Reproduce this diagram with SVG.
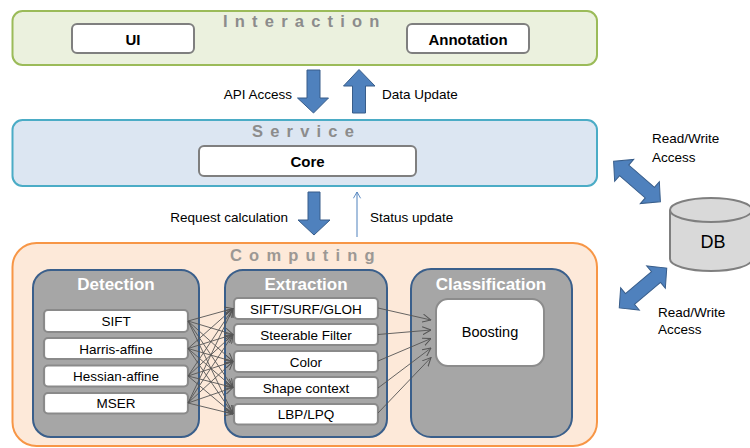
<svg xmlns="http://www.w3.org/2000/svg" width="750" height="448" viewBox="0 0 750 448">
<defs>
<style>
.layer-title{font-family:"Liberation Sans",Arial,sans-serif;font-weight:bold;font-size:16.5px;letter-spacing:7.2px}
.lbl{font-family:"Liberation Sans",Arial,sans-serif;font-size:13.5px;fill:#000}
.btn{fill:#fff;stroke:#7f7f7f;stroke-width:2}
.btxt{font-family:"Liberation Sans",Arial,sans-serif;font-weight:bold;font-size:15px;text-anchor:middle;fill:#000}
.mod{fill:#a6a6a6;stroke:#3a5f8b;stroke-width:2}
.modt{font-family:"Liberation Sans",Arial,sans-serif;font-weight:bold;font-size:17px;text-anchor:middle;fill:#fff}
.item{fill:#fff;stroke:#8a8a8a;stroke-width:2.2}
.itxt{font-family:"Liberation Sans",Arial,sans-serif;font-size:13.5px;text-anchor:middle;fill:#000}
.block{fill:#4f81bd;stroke:#385d8a;stroke-width:1}
.fan{stroke:#555;stroke-width:0.9;fill:none;marker-end:url(#oa)}
</style>
<marker id="oa" viewBox="0 0 10 10" refX="9.5" refY="5" markerWidth="9" markerHeight="9" markerUnits="userSpaceOnUse" orient="auto">
<path d="M0,0.5 L9.5,5 L0,9.5" fill="none" stroke="#555" stroke-width="1.1"/>
</marker>
<marker id="ba" viewBox="0 0 10 10" refX="5" refY="1" markerWidth="9" markerHeight="9" markerUnits="userSpaceOnUse" orient="0">
<path d="M1,8 L5,1 L9,8" fill="none" stroke="#4f81bd" stroke-width="1"/>
</marker>
<path id="dbl" d="M-31,0 L-17,-14.5 L-17,-7 L17,-7 L17,-14.5 L31,0 L17,14.5 L17,7 L-17,7 L-17,14.5 Z"/>
</defs>
<rect width="750" height="448" fill="#fff"/>

<g id="interaction">
<rect x="12.5" y="11" width="584.5" height="54" rx="10" fill="#ebf1de" stroke="#9bbb59" stroke-width="2"/>
<text class="layer-title" x="223" y="27" fill="#8c8c8c">Interaction</text>
</g>
<g id="ui">
<rect class="btn" x="72" y="24" width="122" height="29" rx="5"/>
<text class="btxt" x="133" y="45">UI</text>
</g>
<g id="annotation">
<rect class="btn" x="407" y="24" width="122" height="29" rx="5"/>
<text class="btxt" x="468" y="45">Annotation</text>
</g>

<g id="service">
<rect x="12.5" y="120" width="584.5" height="66" rx="10" fill="#dce6f2" stroke="#4bacc6" stroke-width="2"/>
<text class="layer-title" x="252" y="137" fill="#8c8c8c">Service</text>
</g>
<g id="core">
<rect class="btn" x="199" y="146" width="217" height="30" rx="5"/>
<text class="btxt" x="307.5" y="167">Core</text>
</g>

<g id="computing">
<rect x="12.5" y="243" width="584.5" height="203" rx="24" fill="#fde9d9" stroke="#f79646" stroke-width="2"/>
<text class="layer-title" x="230" y="261" fill="#9c9894">Computing</text>
</g>

<g id="detection">
<rect class="mod" x="33" y="270" width="166" height="167" rx="18"/>
<text class="modt" x="116" y="290">Detection</text>
<g id="det-sift"><rect class="item" x="44" y="310" width="144" height="22" rx="4"/><text class="itxt" x="116" y="326">SIFT</text></g>
<g id="det-harris"><rect class="item" x="44" y="338" width="144" height="21" rx="4"/><text class="itxt" x="116" y="353.5">Harris-affine</text></g>
<g id="det-hessian"><rect class="item" x="44" y="365.5" width="144" height="21" rx="4"/><text class="itxt" x="116" y="381">Hessian-affine</text></g>
<g id="det-mser"><rect class="item" x="44" y="393" width="144" height="20.5" rx="4"/><text class="itxt" x="116" y="408">MSER</text></g>
</g>

<g id="extraction">
<rect class="mod" x="225" y="270" width="162" height="167" rx="18"/>
<text class="modt" x="306" y="290">Extraction</text>
<g id="ext-sift"><rect class="item" x="234" y="298" width="144" height="21" rx="4"/><text class="itxt" x="306" y="313.5">SIFT/SURF/GLOH</text></g>
<g id="ext-steer"><rect class="item" x="234" y="324" width="144" height="21" rx="4"/><text class="itxt" x="306" y="339.5">Steerable Filter</text></g>
<g id="ext-color"><rect class="item" x="234" y="351" width="144" height="21" rx="4"/><text class="itxt" x="306" y="366.5">Color</text></g>
<g id="ext-shape"><rect class="item" x="234" y="377" width="144" height="21" rx="4"/><text class="itxt" x="306" y="392.5">Shape context</text></g>
<g id="ext-lbp"><rect class="item" x="234" y="404" width="144" height="20.5" rx="4"/><text class="itxt" x="306" y="419">LBP/LPQ</text></g>
</g>

<g id="classification">
<rect class="mod" x="411" y="269" width="161" height="168" rx="20"/>
<text class="modt" x="491" y="290">Classification</text>
<g id="boosting"><rect x="436" y="299" width="108" height="67" rx="12" fill="#fff" stroke="#8c8c8c" stroke-width="2"/><text class="itxt" x="490" y="337" style="font-size:14.5px">Boosting</text></g>
</g>

<g id="db">
<path d="M670,210 L670,259 A41,12 0 0 0 752,259 L752,210" fill="#d9d9d9" stroke="#7f7f7f" stroke-width="2"/>
<ellipse cx="711" cy="210" rx="41" ry="12" fill="#d9d9d9" stroke="#7f7f7f" stroke-width="2"/>
<text x="713" y="248" style="font-family:'Liberation Sans',Arial,sans-serif;font-size:18px;text-anchor:middle">DB</text>
</g>

<g id="connectors">
<path class="block" d="M307,70 L320,70 L320,98 L328.5,98 L313.5,113 L297.5,98 L307,98 Z"/>
<text class="lbl" x="292" y="99" text-anchor="end">API Access</text>
<path class="block" d="M352.5,113 L365.5,113 L365.5,86 L375,86 L359,69.5 L343.5,86 L352.5,86 Z"/>
<text class="lbl" x="382" y="99">Data Update</text>
<path class="block" d="M308,192 L320,192 L320,220 L330,220 L314,235 L298,220 L308,220 Z"/>
<text class="lbl" x="288" y="222" text-anchor="end">Request calculation</text>
<line x1="357" y1="237" x2="357" y2="192" stroke="#4f81bd" stroke-width="1" marker-end="url(#ba)"/>
<text class="lbl" x="370" y="222">Status update</text>

<use href="#dbl" class="block" transform="translate(637,181.5) rotate(41)"/>
<text class="lbl" x="652" y="143">Read/Write</text>
<text class="lbl" x="652" y="162">Access</text>
<use href="#dbl" class="block" transform="translate(643,288) rotate(-40)"/>
<text class="lbl" x="658" y="317">Read/Write</text>
<text class="lbl" x="658" y="334">Access</text>

<path class="fan" d="M188,321 L233,308.5"/>
<path class="fan" d="M188,321 L233,334.5"/>
<path class="fan" d="M188,321 L233,361.5"/>
<path class="fan" d="M188,321 L233,387.5"/>
<path class="fan" d="M188,321 L233,414"/>
<path class="fan" d="M188,348.5 L233,308.5"/>
<path class="fan" d="M188,348.5 L233,334.5"/>
<path class="fan" d="M188,348.5 L233,361.5"/>
<path class="fan" d="M188,348.5 L233,387.5"/>
<path class="fan" d="M188,348.5 L233,414"/>
<path class="fan" d="M188,376 L233,308.5"/>
<path class="fan" d="M188,376 L233,334.5"/>
<path class="fan" d="M188,376 L233,361.5"/>
<path class="fan" d="M188,376 L233,387.5"/>
<path class="fan" d="M188,376 L233,414"/>
<path class="fan" d="M188,403 L233,308.5"/>
<path class="fan" d="M188,403 L233,334.5"/>
<path class="fan" d="M188,403 L233,361.5"/>
<path class="fan" d="M188,403 L233,387.5"/>
<path class="fan" d="M188,403 L233,414"/>

<path class="fan" d="M378,308 L431,320"/>
<path class="fan" d="M378,334.5 L431,330"/>
<path class="fan" d="M378,361 L431,338.5"/>
<path class="fan" d="M378,388 L431,348"/>
<path class="fan" d="M378,413 L431,357.5"/>
</g>
</svg>
